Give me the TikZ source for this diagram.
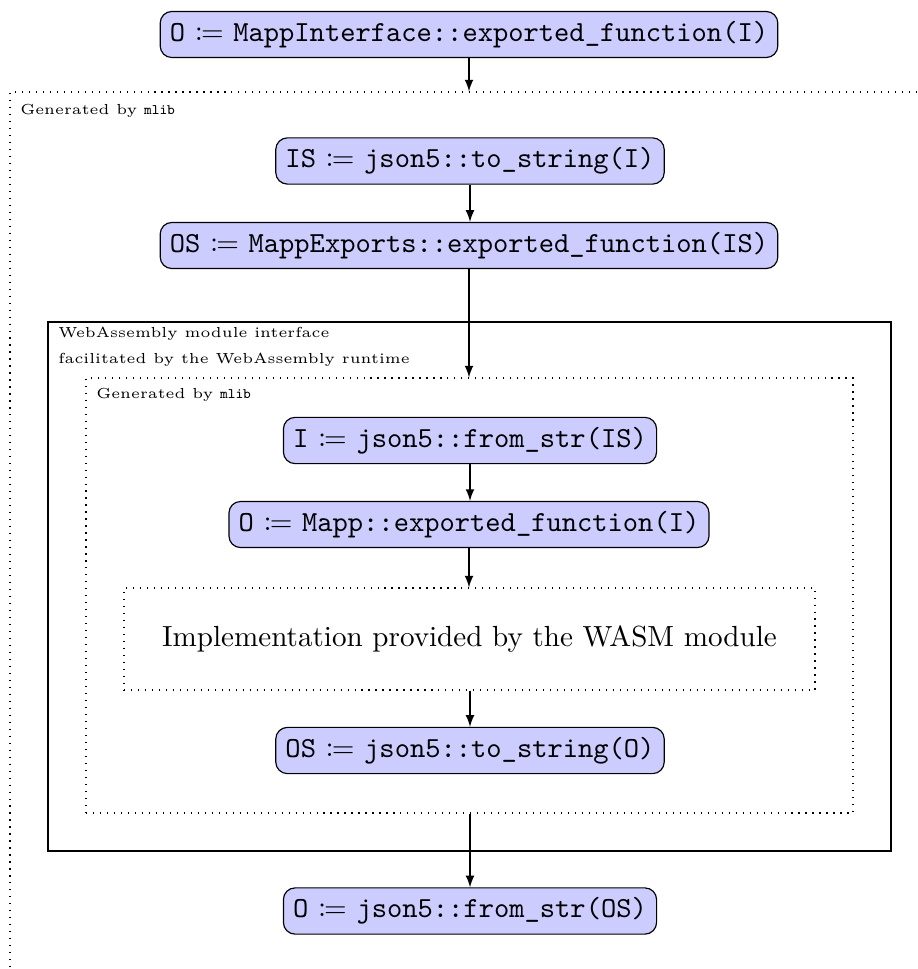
\documentclass[tikz,border=0pt]{standalone}
\usepackage{mathtools}
\usetikzlibrary{fit,arrows}
\tikzset{
  callbox/.style={draw, fill=blue!20, rounded corners=4pt, font=\ttfamily, inner sep=3.333pt},
  region/.style={draw, dotted, inner sep=0pt},
  frame/.style={draw, inner sep=0pt},
  lbl/.style={font=\tiny, anchor=west, align=left},
  flow/.style={-latex},
}
% assignment sign with roman word spaces around it
\newcommand{\asg}{\textrm{ $\coloneqq$ }}
\begin{document}
\begin{tikzpicture}[x=0.3436pt, y=-0.3436pt]
  \clip (0,0) rectangle (917,969);

  % corner points of the frames
  \coordinate (oA) at (10,92);   \coordinate (oB) at (940,990);
  \coordinate (wA) at (48,322);  \coordinate (wB) at (891,851);
  \coordinate (iA) at (86,378);  \coordinate (iB) at (853,813);
  \coordinate (mA) at (124,588); \coordinate (mB) at (815,690);

  \node[region, fit=(oA)(oB)] (outer) {};
  \node[frame, fit=(wA)(wB)] (wasm) {};
  \node[region, fit=(iA)(iB)] (inner) {};
  \node[region, fit=(mA)(mB)] (impl) {};

  \node[lbl] (lblouter) at (10,111) {Generated by \texttt{mlib}};
  \node[lbl] (lblwasm) at (48,347) {WebAssembly module interface\\[3pt]facilitated by the WebAssembly runtime};
  \node[lbl] (lblinner) at (86,395) {Generated by \texttt{mlib}};
  \node (impltext) at (impl.center) {Implementation provided by the WASM module};

  % the chain of calls
  \node[callbox] (call)   at (469,34.5) {O\asg MappInterface::exported\_function(I)};
  \node[callbox] (ser)    at (470,161)  {IS\asg json5::to\_string(I)};
  \node[callbox] (expo)   at (469,245.5){OS\asg MappExports::exported\_function(IS)};
  \node[callbox] (deser)  at (470,440.5){I\asg json5::from\_str(IS)};
  \node[callbox] (mapp)   at (469,524.5){O\asg Mapp::exported\_function(I)};
  \node[callbox] (ser2)   at (470,750.5){OS\asg json5::to\_string(O)};
  \node[callbox] (deser2) at (470,911)  {O\asg json5::from\_str(OS)};

  \draw[flow] (call.south) -- (call.south |- outer.north);
  \draw[flow] (ser) -- (ser |- expo.north);
  \draw[flow] (expo.south) -- (expo.south |- inner.north);
  \draw[flow] (deser) -- (deser |- mapp.north);
  \draw[flow] (mapp.south) -- (mapp.south |- impl.north);
  \draw[flow] (impl.south -| ser2) -- (ser2.north);
  \draw[flow] (inner.south -| deser2) -- (deser2.north);
\end{tikzpicture}
\end{document}
